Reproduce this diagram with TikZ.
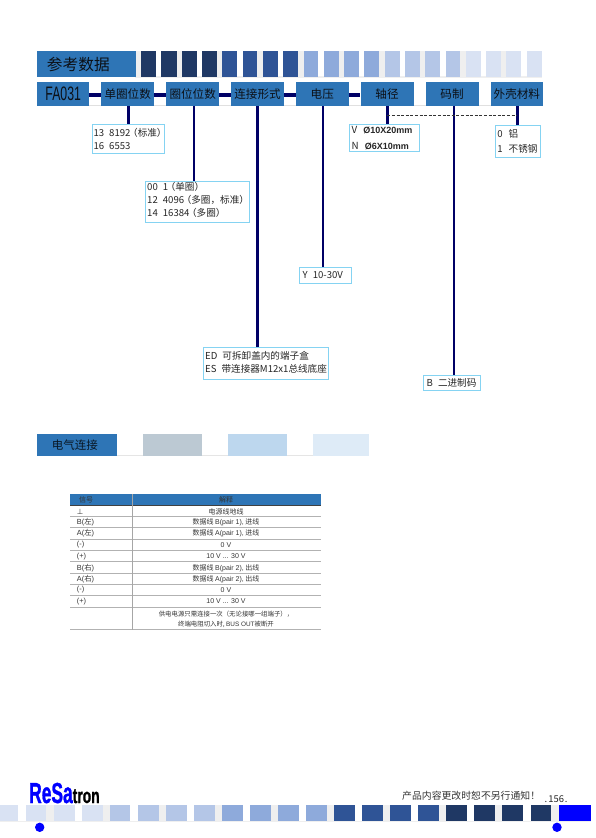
\documentclass[tikz,border=0pt]{standalone}
\usepackage{fontspec}
\setmainfont{Noto Sans CJK SC}
\newfontfamily\lat{Liberation Sans}
\newfontfamily\cjk{Noto Sans CJK SC}
\newfontfamily\djv{DejaVu Sans}
\newfontfamily\logof{Liberation Sans}[UprightFont=* Bold,UprightFeatures={FakeBold=1.4}]
\definecolor{mainblue}{HTML}{2E75B6}
\definecolor{navyline}{HTML}{000066}
\definecolor{boxedge}{HTML}{85D3F2}
\definecolor{gapgray}{HTML}{EFEFEF}
\definecolor{tileA}{HTML}{1F3864}
\definecolor{tileB}{HTML}{2F5496}
\definecolor{tileC}{HTML}{8EAADB}
\definecolor{tileD}{HTML}{B4C6E7}
\definecolor{tileE}{HTML}{D9E2F3}
\definecolor{inktext}{HTML}{0C1016}
\definecolor{secgray}{HTML}{BCC9D3}
\definecolor{secblue}{HTML}{BDD7EE}
\definecolor{secpale}{HTML}{DEEBF7}
\newcommand{\fsz}[1]{\fontsize{#1}{#1}\selectfont}
\newcommand{\fszl}[2]{\fontsize{#1}{#2}\selectfont}
\newcommand{\lp}{\kern-2.4pt（}
\newcommand{\rp}{）\kern-2.4pt}
\newcommand{\gp}{\hspace{5pt}}
\tikzset{
  headbox/.style={fill=mainblue,text=inktext,inner sep=0pt,anchor=north west,font=\fsz{11.6}},
  infobox/.style={draw=boxedge,line width=0.8pt,fill=white,inner xsep=1.5pt,inner ysep=0pt,anchor=north west,align=left,text=black!85,font=\fszl{9.6}{12.8}},
  linkh/.style={draw=navyline,line width=4pt},
  linkv/.style={draw=navyline,line width=2.5pt},
  celltext/.style={inner sep=0pt,text=black!80,font=\fsz{7}},
  sigtext/.style={inner sep=0pt,text=black!80,font=\fsz{7.4},anchor=west},
  rowline/.style={draw=black!30,line width=0.9pt},
}
\begin{document}
\begin{tikzpicture}[x=1pt,y=-1pt]
\useasboundingbox (0,0) rectangle (595,838);
% top tiles
\fill[gapgray] (135,76) rectangle (542,77.6);
\foreach \a/\b in {135.7/141,176.7/182,217.3/222.3,257.3/263,298/303.7,338.7/344,379/384.7,420/425,460.3/466,500.7/506}
  \fill[gapgray] (\a,51) rectangle (\b,76.7);
\foreach \a/\b/\c in {141/156/tileA,161.3/176.7/tileA,182/196.7/tileA,202/217.3/tileA,
  222.3/237/tileB,242.7/257.3/tileB,263/277.7/tileB,283/298/tileB,
  303.7/318.3/tileC,324/338.7/tileC,344/359/tileC,364.3/379/tileC,
  384.7/399.7/tileD,405/420/tileD,425/440/tileD,445.7/460.3/tileD,
  466/480.7/tileE,486/500.7/tileE,506/520.7/tileE,527/541.7/tileE}
  \fill[\c] (\a,51) rectangle (\b,76.7);
\node[headbox,minimum width=98.7pt,minimum height=25.7pt,text width=89pt,align=left,font=\fsz{15.7}] (title) at (37,51) {\hspace*{4.9pt}参考数据};
% code row
\fill[black!12] (37,105) rectangle (543,106);
\node[headbox,minimum width=52pt,minimum height=23.7pt] (fa) at (37,82) {\lat\fsz{19.5}\scalebox{0.63}[1]{FA031}};
\node[headbox,minimum width=53pt,minimum height=23.7pt] (dq) at (101,82) {单圈位数};
\node[headbox,minimum width=53pt,minimum height=23.7pt] (qw) at (166,82) {圈位位数};
\node[headbox,minimum width=52.7pt,minimum height=23.7pt] (lj) at (231,82) {连接形式};
\node[headbox,minimum width=52.7pt,minimum height=23.7pt] (dy) at (295.7,82) {电压};
\node[headbox,minimum width=53pt,minimum height=23.7pt] (zj) at (360.3,82) {轴径};
\node[headbox,minimum width=53pt,minimum height=23.7pt] (mz) at (425.3,82) {码制};
\node[headbox,minimum width=52.7pt,minimum height=23.7pt] (wk) at (490.3,82) {外壳材料};
\foreach \p/\q in {fa/dq,dq/qw,qw/lj,lj/dy,dy/zj}
  \draw[linkh] ([yshift=-1.2pt]\p.east) -- ([yshift=-1.2pt]\q.west);
% option boxes
\node[infobox,minimum width=72.6pt,minimum height=28.4pt,text width=69.6pt] (b1) at (91.7,124.3) {\mbox{13\gp 8192\lp 标准\rp}\\\mbox{16\gp 6553}};
\node[infobox,minimum width=103.4pt,minimum height=40.7pt,text width=100.4pt] (b2) at (145.3,181) {\mbox{00\gp 1\lp 单圈\rp}\\\mbox{12\gp 4096\lp 多圈，标准\rp}\\\mbox{14\gp 16384\lp 多圈\rp}\par\vspace{3.3pt}};
\node[infobox,minimum width=125pt,minimum height=31.4pt,text width=122pt] (b3) at (203.3,347.3) {\mbox{ED\gp 可拆卸盖内的端子盒}\\\mbox{ES\gp 带连接器M12x1总线底座}\par\vspace{2pt}};
\node[infobox,minimum width=51.4pt,minimum height=15.7pt,text width=45.4pt,inner xsep=3pt] (b4) at (299.3,267) {\mbox{Y\gp 10-30V}};
\node[infobox,minimum width=70pt,minimum height=27.3pt,text width=66pt,inner xsep=2pt,font=\fszl{9.8}{15.3}] (b5) at (349.3,124) {V\hspace{6pt}{\lat\bfseries\fsz{9}Ø10X20mm}\\N\hspace{6pt}{\lat\bfseries\fsz{9}Ø6X10mm}};
\node[infobox,minimum width=56.7pt,minimum height=14.7pt,text width=50.7pt,inner xsep=3pt] (b6) at (423.3,375) {\mbox{B\gp 二进制码}};
\node[infobox,minimum width=44.4pt,minimum height=31.7pt,text width=41pt,inner xsep=1.7pt,font=\fszl{9.6}{15}] (b7) at (495.3,125) {0\hspace{6pt}铝\\1\hspace{6pt}不锈钢};
% vertical connectors
\draw[linkv,line width=3pt] ([xshift=0.8pt]dq.south) -- ([xshift=0.8pt]dq.south |- b1.north);
\draw[linkv,line width=2pt] ([xshift=1.2pt]qw.south) -- ([xshift=1.2pt]qw.south |- b2.north);
\draw[linkv] (lj.south) -- (lj.south |- b3.north);
\draw[linkv,line width=2pt] ([xshift=0.7pt]dy.south) -- ([xshift=0.7pt]dy.south |- b4.north);
\draw[linkv,line width=3pt] ([xshift=0.5pt]zj.south) -- ([xshift=0.5pt]zj.south |- b5.north);
\draw[linkv,line width=2pt] ([xshift=1.9pt]mz.south) -- ([xshift=1.9pt]mz.south |- b6.north);
\draw[linkv,line width=3pt] ([xshift=0.65pt]wk.south) -- ([xshift=0.65pt]wk.south |- b7.north);
\coordinate (dashL) at (387.3,115.3);
\coordinate (dashR) at (517.3,115.3);
\draw[black!80,line width=0.6pt,dash pattern=on 3pt off 1.6pt] (dashL) -- (dashR);
% section 2
\fill[black!10] (116,455) rectangle (369,456.2);
\node[headbox,minimum width=79.7pt,minimum height=21.7pt,font=\fsz{11.5},text=black!80!mainblue] (sec) at (37,434) {\hspace*{-4.3pt}电气连接};
\fill[secgray] (142.7,434) rectangle (202,455.7);
\fill[secblue] (228,434) rectangle (287.3,455.7);
\fill[secpale] (313.3,434) rectangle (369,455.7);
% table
\fill[mainblue] (70,494.3) rectangle (320.7,505);
\draw[line width=0.8pt,black!75] (70,505) -- (320.7,505);
\foreach \y in {516.7,527.7,539.3,550.3,561.7,573,584.3,595.7,607.3,629.7}
  \draw[rowline] (70,\y) -- (320.7,\y);
\draw[black!35,line width=0.7pt] (132,494.3) -- (132,629.7);
\node[celltext] (h1) at (86,499.8) {信号};
\node[celltext] (h2) at (226,499.8) {解释};
\node[sigtext] (s1) at (76.7,511.5) {\djv ⊥};
\node[celltext] (t1) at (226,511.5) {电源线地线};
\node[sigtext] (s2) at (76.7,522.5) {{\lat B(}{\cjk 左}{\lat )}};
\node[celltext] (t2) at (226,522.5) {数据线 {\lat B(pair 1),} 进线};
\node[sigtext] (s3) at (76.7,533.5) {{\lat A(}{\cjk 左}{\lat )}};
\node[celltext] (t3) at (226,533.5) {数据线 {\lat A(pair 1),} 进线};
\node[sigtext] (s4) at (76.7,545) {\lat (-)};
\node[celltext] (t4) at (226,545) {\lat 0 V};
\node[sigtext] (s5) at (76.7,556.3) {\lat (+)};
\node[celltext] (t5) at (226,556.3) {\lat 10 V ... 30 V};
\node[sigtext] (s6) at (76.7,568) {{\lat B(}{\cjk 右}{\lat )}};
\node[celltext] (t6) at (226,568) {数据线 {\lat B(pair 2),} 出线};
\node[sigtext] (s7) at (76.7,579) {{\lat A(}{\cjk 右}{\lat )}};
\node[celltext] (t7) at (226,579) {数据线 {\lat A(pair 2),} 出线};
\node[sigtext] (s8) at (76.7,590) {\lat (-)};
\node[celltext] (t8) at (226,590) {\lat 0 V};
\node[sigtext] (s9) at (76.7,601.5) {\lat (+)};
\node[celltext] (t9) at (226,601.5) {\lat 10 V ... 30 V};
\node[celltext,align=center,font=\fszl{6.4}{7.5}] (t10) at (226,619.3) {供电电源只需连接一次（无论接哪一组端子），\\[2.5pt]终端电阻切入时, {\lat BUS OUT}被断开};
% footer
\fill[gapgray] (0,820.6) rectangle (591,821.6);
\foreach \a/\b in {46.3/54,102.7/110,158.7/166,214.7/222.3,271/278.3,327/334.3,383/390.3,439/445.7,495/502,551.3/559}
  \fill[gapgray] (\a,805) rectangle (\b,820.7);
\foreach \a/\b/\c in {0/18.3/tileE,26/46.3/tileE,54/74.7/tileE,82/102.7/tileE,
  110/130.3/tileD,138/158.7/tileD,166/186.7/tileD,194.3/214.7/tileD,
  222.3/242.7/tileC,250.3/271/tileC,278.3/299/tileC,306.3/327/tileC,
  334.3/355/tileB,362.3/383/tileB,390.3/411/tileB,418.3/439/tileB,
  445.7/467/tileA,474.3/495/tileA,502/522.7/tileA,530.7/551.3/tileA,
  559/591.3/blue}
  \fill[\c] (\a,805) rectangle (\b,820.7);
\fill[blue] (39.7,827.3) circle[radius=4.7];
\fill[blue] (557,827.3) circle[radius=4.7];
\node[anchor=base west,inner sep=0pt] (logo) at (29,803) {\logof{\color{blue}\fsz{29}\scalebox{0.6}[1]{ReSa}}{\color{black}\fsz{21}\scalebox{0.66}[1]{tron}}};
\node[anchor=west,inner sep=0pt,text=black!80,font=\fsz{9.85}] (notice) at (402,796) {产品内容更改时恕不另行通知！};
\node[anchor=west,inner sep=0pt,text=black!85,font=\fsz{9.4}] (page) at (544.5,799) {.\kern1pt 156\kern1pt .};
\end{tikzpicture}
\end{document}
